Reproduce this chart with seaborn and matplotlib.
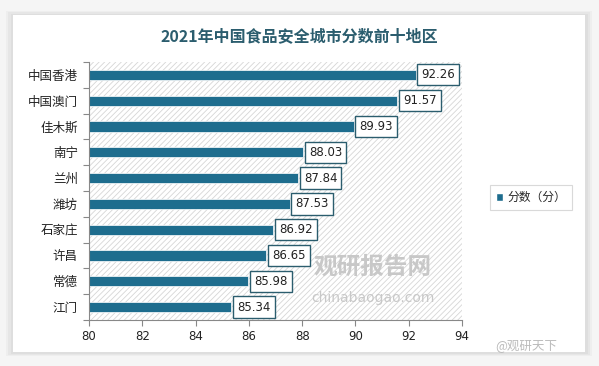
import matplotlib
matplotlib.use("Agg")
import matplotlib.pyplot as plt
from matplotlib.patches import Rectangle, Patch
import seaborn as sns
import pandas as pd

cities = ["中国香港", "中国澳门", "佳木斯", "南宁", "兰州", "潍坊", "石家庄", "许昌", "常德", "江门"]
scores = [92.26, 91.57, 89.93, 88.03, 87.84, 87.53, 86.92, 86.65, 85.98, 85.34]
xticks = [80, 82, 84, 86, 88, 90, 92, 94]
title = "2021年中国食品安全城市分数前十地区"
series_name = "分数（分）"

bar_color = "#1e6d8e"
dark = "#2b5d6e"

sns.set_theme(style="white")
plt.rcParams["font.family"] = ["Noto Sans CJK SC", "DejaVu Sans"]
plt.rcParams["hatch.linewidth"] = 0.6

df = pd.DataFrame({"city": cities, "score": scores})

fig = plt.figure(figsize=(5.99, 3.66), dpi=100)
fig.patch.set_facecolor("#f5f5f5")
# card with soft shadow
for i, c in enumerate(["#eeeeee", "#e6e6e6", "#dedede"]):
    d = 0.004 * (3 - i)
    fig.patches.append(Rectangle((0.022 - d, 0.038 - d), 0.955 + 2 * d, 0.92 + 2 * d,
                                 transform=fig.transFigure, facecolor=c, edgecolor="none", zorder=-10))
fig.patches.append(Rectangle((0.022, 0.038), 0.955, 0.92, transform=fig.transFigure,
                             facecolor="white", edgecolor="none", zorder=-9))

ax = fig.add_axes([0.1486, 0.1257, 0.6227, 0.705])
ax.set_facecolor("none")
ax.add_patch(Rectangle((0, 0), 1, 1, transform=ax.transAxes, facecolor="white",
                       edgecolor="#d6d6d6", hatch="//////", linewidth=0, zorder=0))

sns.barplot(data=df, y="city", x="score", orient="h", color=bar_color, saturation=1,
            width=0.4, edgecolor="white", linewidth=0.5, ax=ax, zorder=2)

ax.set_xlim(80, 94)
ax.set_xticks(xticks)
ax.set_xlabel("")
ax.set_ylabel("")
ax.set_ylim(len(cities) - 0.5, -0.5)
ax.set_yticks(range(len(cities)))
ax.set_yticklabels(cities, fontsize=9, color="#222222")
ax.set_yticks([i - 0.5 for i in range(len(cities) + 1)], minor=True)
ax.tick_params(axis="y", which="major", length=0, pad=8)
ax.tick_params(axis="y", which="minor", length=4, color="#888888", width=0.8, direction="out", left=True)
ax.tick_params(axis="x", labelsize=8.5, length=4, color="#888888", width=0.8, direction="out",
               bottom=True, labelcolor="#222222")
for lab in ax.get_xticklabels():
    lab.set_family("DejaVu Sans")
for s in ["top", "right"]:
    ax.spines[s].set_visible(False)
for s in ["left", "bottom"]:
    ax.spines[s].set_color("#888888")
    ax.spines[s].set_linewidth(0.8)

for i, v in enumerate(scores):
    ax.text(v + 0.22, i, f"{v:.2f}", va="center", ha="left", fontsize=8.5, family="DejaVu Sans",
            color="#222222", zorder=4,
            bbox=dict(boxstyle="square,pad=0.35", facecolor="white", edgecolor=dark, linewidth=1))

# watermark
ax.text(0.76, 0.205, "观研报告网", transform=ax.transAxes, fontsize=17, fontweight="bold",
        color="#c8c8c8", ha="center", va="center", zorder=1)
ax.text(0.76, 0.085, "chinabaogao.com", transform=ax.transAxes, fontsize=10,
        color="#c8c8c8", ha="center", va="center", family="DejaVu Sans", zorder=1)
fig.text(0.93, 0.055, "@观研天下", fontsize=9, color="#bbbbbb", ha="right", va="center")

fig.text(0.5, 0.9, title, fontsize=11.5, fontweight="bold", color="#2b5d6e",
         ha="center", va="center")

leg = fig.legend(handles=[Patch(facecolor=bar_color, label=series_name)],
                 loc="center left", bbox_to_anchor=(0.808, 0.46), fontsize=8.5,
                 handlelength=0.6, handleheight=0.6, handletextpad=0.4,
                 frameon=True, fancybox=False, edgecolor="#d0d0d0", borderpad=0.5)
leg.get_frame().set_linewidth(0.8)

fig.savefig("out.png", dpi=100, facecolor=fig.get_facecolor())
